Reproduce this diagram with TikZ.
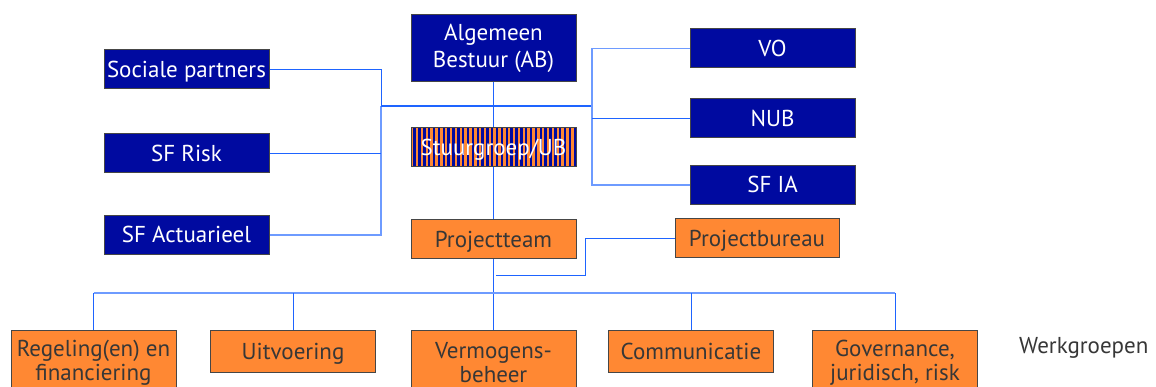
\documentclass[tikz,border=0pt]{standalone}
\usepackage{fontspec}
\setmainfont{PT Sans}
\usetikzlibrary{backgrounds}
\definecolor{navy}{RGB}{0,10,160}
\definecolor{orng}{RGB}{255,136,51}
\definecolor{bord}{RGB}{70,70,70}
\definecolor{txt}{RGB}{55,55,55}
\definecolor{lnblue}{RGB}{30,100,255}
\definecolor{lnlight}{RGB}{110,155,255}
\begin{document}
\begin{tikzpicture}[x=1pt,y=-1pt,
  box/.style={draw=bord,line width=1pt,inner sep=0pt,minimum width=165pt,align=center,
    font=\fontsize{23}{27}\selectfont},
  one/.style={text height=20pt,text depth=4pt},
  bluebox/.style={box,fill=navy,text=white,minimum height=39pt},
  orangebox/.style={box,fill=orng,text=txt,minimum height=39pt},
  tallbox/.style={orangebox,minimum height=66pt,font=\fontsize{23}{24}\selectfont},
  conn/.style={draw=lnblue,line width=1pt},
  connl/.style={draw=lnlight,line width=1.6pt}]
\useasboundingbox (0,0) rectangle (1156,387);

\node[bluebox,minimum height=67pt] (ab) at (493.5,48.5) {Algemeen\\Bestuur (AB)};
\node[box,one,text=white,minimum height=39pt,
  path picture={
    \fill[orng] (path picture bounding box.south west) rectangle (path picture bounding box.north east);
    \foreach \i in {0,...,33}
      \fill[navy] ([xshift=\i*4.85pt+2.45pt]path picture bounding box.south west) rectangle ++(2.4pt,40pt);
  }] (sg) at (493.5,147.5) {Stuurgroep/UB};

\node[bluebox,one] (soc) at (186.5,69.5) {Sociale partners};
\node[bluebox,one] (risk) at (186.5,153.5) {SF Risk};
\node[bluebox,one] (act) at (186.5,235) {SF Actuarieel};

\node[bluebox,one] (vo) at (772.5,48.5) {VO};
\node[bluebox,one] (nub) at (772.5,118.5) {NUB};
\node[bluebox,one] (sfia) at (772.5,185) {SF IA};

\node[orangebox,one] (pt) at (493.5,239.5) {Projectteam};
\node[orangebox,one,minimum width=164pt] (pb) at (757,238.5) {Projectbureau};

\node[tallbox] (reg) at (93.5,363) {Regeling(en) en\\financiering};
\node[orangebox,one,minimum height=42pt] (uit) at (293,351) {Uitvoering};
\node[tallbox] (verm) at (493.5,363) {Vermogens-\\beheer};
\node[orangebox,one,minimum height=42pt] (comm) at (691,351) {Communicatie};
\node[tallbox] (gov) at (895,363) {Governance,\\juridisch, risk};

\node[anchor=base west,inner sep=0pt,text=txt,font=\fontsize{23}{27}\selectfont] (wg) at (1019,353) {Werkgroepen};

\coordinate (lj) at (381,106);
\coordinate (rj) at (592,106);
\coordinate (pbk) at (585,276);
\coordinate (bus) at (0,293);

\begin{pgfonlayer}{background}
  \draw[conn] (soc.east) -| (lj);
  \draw[connl] (act.east) -| (lj);
  \draw[conn] (risk.east) -- (risk.east -| lj);
  \draw[conn,line width=1.6pt] (lj) -- (rj);
  \draw[connl] (vo.west) -| (rj);
  \draw[connl] (sfia.west) -| (rj);
  \draw[conn] (nub.west) -- (nub.west -| rj);
  \draw[conn] (ab.south) -- (pt.north);
  \draw[conn] (pb.west) -| (pbk) -- ([xshift=2pt]pt.south |- pbk);
  \draw[conn] (pt.south) -- (verm.north);
  \draw[connl] (reg.north |- bus) -- (gov.north |- bus);
  \draw[conn] (reg.north) -- (reg.north |- bus);
  \draw[conn] (uit.north) -- (uit.north |- bus);
  \draw[conn] (comm.north) -- (comm.north |- bus);
  \draw[conn] (gov.north) -- (gov.north |- bus);
\end{pgfonlayer}
\end{tikzpicture}
\end{document}
